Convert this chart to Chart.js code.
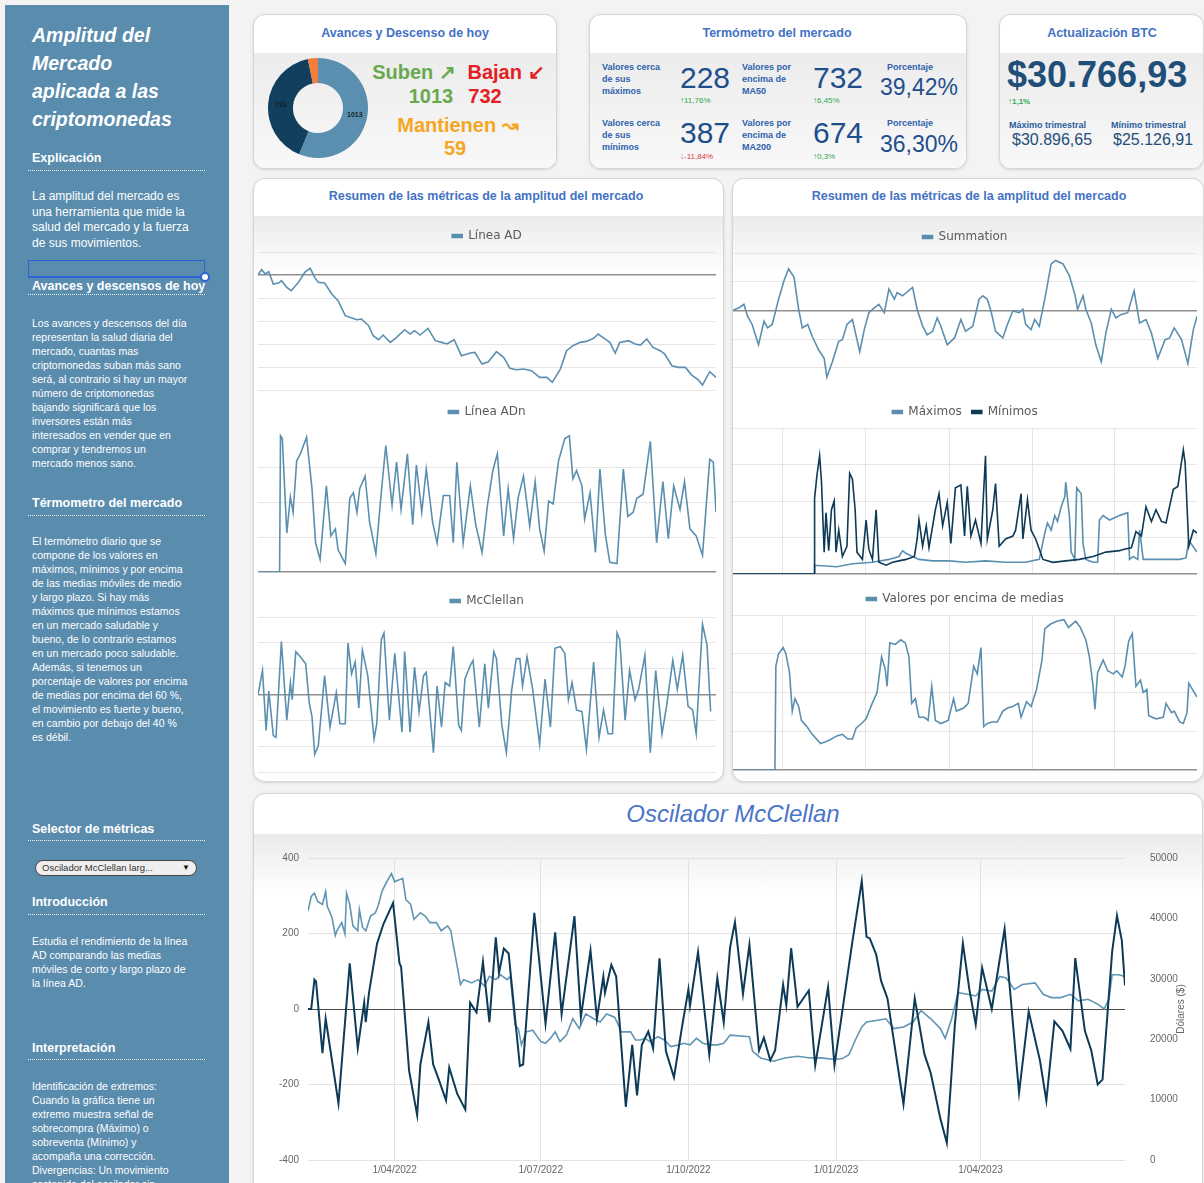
<!DOCTYPE html>
<html lang="es">
<head>
<meta charset="utf-8">
<title>Amplitud del Mercado</title>
<script src="https://cdn.jsdelivr.net/npm/chart.js@4.4.0/dist/chart.umd.min.js"></script>
<style>
  html, body { margin: 0; padding: 0; }
  body { width: 1204px; height: 1183px; overflow: hidden; position: relative; background: #f3f3f3;
         font-family: "Liberation Sans", Arial, sans-serif; }
  .side { position: absolute; left: 5px; top: 5px; width: 224px; height: 1200px; background: #5a8cae; }
  .st { position: absolute; left: 32px; color: #fff; font: italic bold 19.5px/28px "Liberation Sans", Arial, sans-serif; }
  .sh { position: absolute; left: 28px; width: 177px; box-sizing: border-box; padding-left: 4px; color: #fff;
        font: bold 12.5px/16px "Liberation Sans", Arial, sans-serif; border-bottom: 1px dotted rgba(255,255,255,.9); white-space: nowrap; }
  .sp { position: absolute; left: 32px; margin: 0; color: #fff; font: 10.5px/14px "Liberation Sans", Arial, sans-serif; white-space: nowrap; }
  .sel { position: absolute; left: 28px; top: 260px; width: 177px; height: 18px; box-sizing: border-box;
         border: 1.5px solid #2c62d8; border-bottom-width: 2.5px; }
  .knob { position: absolute; left: 200px; top: 272px; width: 10px; height: 10px; box-sizing: border-box;
          border: 2px solid #2c62d8; border-radius: 50%; background: #fff; }
  .pick { position: absolute; left: 35px; top: 860px; width: 162px; height: 16px; box-sizing: border-box;
          background: #eeeeee; border: 1px solid #444; border-radius: 9px; color: #333;
          font: 9.5px/14px "Liberation Sans", Arial, sans-serif; padding-left: 6px; }
  .pick span { position: absolute; right: 6px; top: 0; font-size: 8px; color: #111; }

  .card { position: absolute; background: #fff; border: 1px solid #d6d6d6; border-radius: 12px;
          box-shadow: 0 1px 3px rgba(0,0,0,.13); overflow: hidden; }
  .band { position: absolute; left: 0; right: 0; background: linear-gradient(to bottom, #ebebeb, rgba(240,240,240,0)); }
  .band.full { background: linear-gradient(to bottom, #ececec, #f8f8f8); }

  .t { position: absolute; white-space: nowrap; line-height: 1; }
  .c { transform: translate(-50%, -50%); }
  .l { transform: translateY(-50%); }
  .ttl { font: bold 12.5px "Liberation Sans", Arial, sans-serif; color: #4472c4; }
  .big { font: bold 20px "Liberation Sans", Arial, sans-serif; }
  .lab { font: bold 9px/12px "Liberation Sans", Arial, sans-serif; color: #2f62ad; }
  .num { font: 30px "Liberation Sans", Arial, sans-serif; color: #1f4e8c; }
  .pct { font: 23px "Liberation Sans", Arial, sans-serif; color: #1f4e8c; }
  .chg { font: 8px "Liberation Sans", Arial, sans-serif; }
  .up { color: #2ea84f; }
  .down { color: #e0393e; }
  canvas { position: absolute; }
</style>
</head>
<body>

<!-- sidebar -->
<div class="side"></div>
<div class="st" style="top:21px">Amplitud del<br>Mercado<br>aplicada a las<br>criptomonedas</div>
<div class="sh" style="top:150px;padding-bottom:4px">Explicación</div>
<p class="sp" style="top:189px;font-size:12px;line-height:15.6px">La amplitud del mercado es<br>una herramienta que mide la<br>salud del mercado y la fuerza<br>de sus movimientos.</p>
<div class="sel"></div><div class="knob"></div>
<div class="sh" style="top:278px;padding-bottom:0">Avances y descensos de hoy</div>
<p class="sp" style="top:316px">Los avances y descensos del día<br>representan la salud diaria del<br>mercado, cuantas mas<br>criptomonedas suban más sano<br>será, al contrario si hay un mayor<br>número de criptomonedas<br>bajando significará que los<br>inversores están más<br>interesados en vender que en<br>comprar y tendremos un<br>mercado menos sano.</p>
<div class="sh" style="top:495px;padding-bottom:4px">Térmometro del mercado</div>
<p class="sp" style="top:534px">El termómetro diario que se<br>compone de los valores en<br>máximos, mínimos y por encima<br>de las medias móviles de medio<br>y largo plazo. Si hay más<br>máximos que mínimos estamos<br>en un mercado saludable y<br>bueno, de lo contrario estamos<br>en un mercado poco saludable.<br>Además, si tenemos un<br>porcentaje de valores por encima<br>de medias por encima del 60 %,<br>el movimiento es fuerte y bueno,<br>en cambio por debajo del 40 %<br>es débil.</p>
<div class="sh" style="top:821px;padding-bottom:3px">Selector de métricas</div>
<div class="pick">Oscilador McClellan larg...<span>▼</span></div>
<div class="sh" style="top:894px;padding-bottom:4px">Introducción</div>
<p class="sp" style="top:934px">Estudia el rendimiento de la línea<br>AD comparando las medias<br>móviles de corto y largo plazo de<br>la línea AD.</p>
<div class="sh" style="top:1040px;padding-bottom:3px">Interpretación</div>
<p class="sp" style="top:1079px">Identificación de extremos:<br>Cuando la gráfica tiene un<br>extremo muestra señal de<br>sobrecompra (Máximo) o<br>sobreventa (Mínimo) y<br>acompaña una corrección.<br>Divergencias: Un movimiento<br>sostenido del oscilador sin</p>

<!-- cards -->
<div class="card" style="left:253px;top:14px;width:302px;height:153px"><div class="band full" style="top:38px;bottom:0"></div></div>
<div class="card" style="left:589px;top:14px;width:376px;height:153px"><div class="band full" style="top:38px;bottom:0"></div></div>
<div class="card" style="left:999px;top:14px;width:203px;height:153px"><div class="band full" style="top:38px;bottom:0"></div></div>
<div class="card" style="left:253px;top:178px;width:469px;height:602px"><div class="band" style="top:37px;height:60px"></div></div>
<div class="card" style="left:732px;top:178px;width:470px;height:602px"><div class="band" style="top:37px;height:60px"></div></div>
<div class="card" style="left:253px;top:793px;width:948px;height:420px"><div class="band" style="top:40px;height:60px"></div></div>

<!-- card titles -->
<div class="t c ttl" style="left:405px;top:33px">Avances y Descenso de hoy</div>
<div class="t c ttl" style="left:777px;top:33px">Termómetro del mercado</div>
<div class="t c ttl" style="left:1102px;top:33px">Actualización BTC</div>
<div class="t c ttl" style="left:486px;top:196px">Resumen de las métricas de la amplitud del mercado</div>
<div class="t c ttl" style="left:969px;top:196px">Resumen de las métricas de la amplitud del mercado</div>
<div class="t c" style="left:733px;top:814px;font:italic 24px 'Liberation Sans',Arial,sans-serif;color:#4a74c9">Oscilador McClellan</div>

<!-- advances / declines -->
<div class="t c big" style="left:414px;top:72px;color:#6aa84f">Suben ↗</div>
<div class="t c big" style="left:506px;top:72px;color:#e31e24">Bajan ↙</div>
<div class="t c big" style="left:431px;top:96px;color:#6aa84f">1013</div>
<div class="t c big" style="left:485px;top:96px;color:#e31e24">732</div>
<div class="t c big" style="left:458px;top:125px;color:#f5a623">Mantienen ↝</div>
<div class="t c big" style="left:455px;top:148px;color:#f5a623">59</div>

<!-- market thermometer -->
<div class="t lab" style="left:602px;top:61px">Valores cerca<br>de sus<br>máximos</div>
<div class="t l num" style="left:680px;top:78px">228</div>
<div class="t l chg up" style="left:680px;top:100px">↑11,76%</div>
<div class="t lab" style="left:742px;top:61px">Valores por<br>encima de<br>MA50</div>
<div class="t l num" style="left:813px;top:78px">732</div>
<div class="t l chg up" style="left:813px;top:100px">↑6,45%</div>
<div class="t l lab" style="left:887px;top:67px">Porcentaje</div>
<div class="t l pct" style="left:880px;top:87px">39,42%</div>
<div class="t lab" style="left:602px;top:117px">Valores cerca<br>de sus<br>mínimos</div>
<div class="t l num" style="left:680px;top:133px">387</div>
<div class="t l chg down" style="left:680px;top:156px">↓-11,84%</div>
<div class="t lab" style="left:742px;top:117px">Valores por<br>encima de<br>MA200</div>
<div class="t l num" style="left:813px;top:133px">674</div>
<div class="t l chg up" style="left:813px;top:156px">↑0,3%</div>
<div class="t l lab" style="left:887px;top:123px">Porcentaje</div>
<div class="t l pct" style="left:880px;top:144px">36,30%</div>

<!-- BTC -->
<div class="t l" style="left:1007px;top:75px;font:bold 36px 'Liberation Sans',Arial,sans-serif;color:#1f4e79">$30.766,93</div>
<div class="t l chg up" style="left:1008px;top:101px;font-weight:bold">↑1,1%</div>
<div class="t l lab" style="left:1009px;top:125px;color:#2b5c9e">Máximo trimestral</div>
<div class="t l" style="left:1012px;top:140px;font:16px 'Liberation Sans',Arial,sans-serif;color:#1f4e79">$30.896,65</div>
<div class="t l lab" style="left:1111px;top:125px;color:#2b5c9e">Mínimo trimestral</div>
<div class="t l" style="left:1113px;top:140px;font:16px 'Liberation Sans',Arial,sans-serif;color:#1f4e79">$25.126,91</div>

<!-- charts -->
<canvas id="cDonut" width="100" height="100" style="left:268px;top:58px"></canvas>
<canvas id="cAD" width="458" height="171" style="left:258px;top:220px"></canvas>
<canvas id="cADn" width="458" height="177" style="left:258px;top:396px"></canvas>
<canvas id="cMcS" width="458" height="188" style="left:258px;top:585px"></canvas>
<canvas id="cSum" width="464" height="165" style="left:733px;top:221px"></canvas>
<canvas id="cMax" width="464" height="179" style="left:733px;top:396px"></canvas>
<canvas id="cVal" width="464" height="188" style="left:733px;top:583px"></canvas>
<canvas id="cOsc" width="945" height="348" style="left:256px;top:835px"></canvas>

<script>
// x values are days counted from 1 Jan 2022
const dayMin = 36, dayMax = 545;
const quarterDays = [90, 181, 273, 365, 455];
const quarterLabels = ['1/04/2022', '1/07/2022', '1/10/2022', '1/01/2023', '1/04/2023'];

// today's advances / declines / unchanged
const breadthLabels = ['Suben', 'Bajan', 'Mantienen'];
const breadthCounts = [1013, 732, 59];

// [day, value]
const adLine = [[36,0],[40,116],[44,22],[48,72],[53,-196],[59,-174],[62,-123],[68,-268],[73,-341],[81,-160],[88,58],[94,145],[99,-51],[103,-160],[110,-174],[118,-413],[125,-558],[133,-885],[138,-921],[146,-972],[151,-957],[159,-1102],[164,-1320],[170,-1407],[175,-1305],[183,-1465],[190,-1356],[199,-1189],[205,-1283],[210,-1211],[216,-1305],[225,-1160],[233,-1428],[240,-1465],[246,-1500],[254,-1407],[262,-1754],[272,-1697],[277,-1682],[285,-1936],[292,-1885],[301,-1667],[309,-1790],[316,-2030],[323,-2059],[331,-2045],[340,-2081],[349,-2226],[357,-2226],[363,-2334],[372,-2045],[379,-1646],[386,-1537],[394,-1465],[401,-1443],[409,-1377],[414,-1283],[422,-1392],[427,-1465],[433,-1697],[438,-1465],[448,-1428],[455,-1500],[461,-1523],[468,-1392],[475,-1573],[483,-1646],[488,-1718],[496,-1972],[503,-2008],[511,-2008],[518,-2175],[525,-2276],[530,-2392],[538,-2102],[545,-2226]];

const adnLine = [[36,0],[60,0],[61,98],[63,96],[68,28],[72,54],[75,43],[79,80],[83,85],[90,97],[96,60],[100,21],[105,9],[112,62],[117,26],[122,31],[125,16],[133,6],[138,53],[142,57],[146,43],[149,60],[155,69],[160,36],[167,13],[173,57],[178,91],[185,48],[190,79],[195,45],[202,85],[208,34],[212,77],[218,43],[223,74],[230,36],[235,21],[242,55],[249,55],[253,21],[257,79],[264,21],[272,62],[278,34],[285,14],[291,48],[297,73],[302,85],[309,26],[314,60],[320,24],[325,53],[331,69],[338,33],[344,65],[349,31],[354,15],[359,51],[364,49],[370,80],[377,96],[382,98],[386,67],[390,73],[396,62],[399,38],[405,57],[411,14],[416,74],[422,27],[427,7],[435,6],[442,74],[447,40],[453,43],[457,53],[464,56],[472,94],[479,21],[486,65],[492,24],[498,62],[505,45],[510,65],[516,31],[523,26],[530,12],[538,81],[542,79],[545,43]];

const mcSmall = [[36,0],[41,93],[45,-139],[48,13],[53,-159],[56,-166],[62,205],[68,-99],[72,46],[74,-20],[78,166],[83,146],[89,119],[93,-33],[96,-86],[99,-232],[103,-199],[110,73],[116,-126],[123,7],[127,-113],[133,-113],[136,199],[140,80],[144,126],[148,-53],[152,172],[158,73],[165,-172],[168,-113],[173,212],[176,238],[182,-99],[188,159],[196,-146],[199,166],[205,-146],[210,106],[215,-66],[220,73],[223,86],[231,-225],[235,33],[240,-126],[244,46],[249,33],[253,186],[259,-119],[262,-139],[266,60],[272,113],[275,132],[282,-126],[288,119],[292,-53],[298,166],[301,139],[307,-119],[312,-225],[318,20],[323,139],[327,139],[330,33],[335,146],[341,26],[349,-192],[355,60],[361,-126],[366,179],[372,186],[377,159],[381,-20],[385,46],[390,-60],[396,-66],[401,-212],[409,126],[415,-166],[420,-60],[425,-152],[430,-152],[435,238],[438,212],[444,-99],[449,93],[455,-20],[459,20],[466,152],[472,-225],[478,93],[485,-152],[490,-46],[497,132],[502,20],[508,152],[514,-46],[519,-60],[523,-152],[530,272],[535,192],[539,-66]];

const summation = [[36,0],[43,0.1],[48,0.21],[52,-0.2],[57,-0.49],[64,-1.2],[70,-0.38],[74,-0.61],[79,-0.49],[86,0.39],[92,1.04],[97,1.45],[103,1.15],[108,0.04],[112,-0.61],[118,-0.49],[123,-0.91],[130,-1.38],[136,-1.67],[139,-2.32],[145,-1.79],[152,-1.08],[156,-1.02],[161,-0.49],[167,-0.32],[175,-1.44],[180,-0.67],[185,-0.08],[191,0.09],[196,0.21],[202,-0.08],[207,0.74],[213,0.39],[216,0.62],[222,0.51],[233,0.8],[238,0.04],[244,-0.55],[249,-0.85],[255,-0.73],[260,-0.26],[264,-0.55],[271,-1.2],[279,-0.96],[286,-0.32],[291,-0.73],[299,-0.55],[306,0.39],[310,0.51],[315,0.39],[319,-0.02],[324,-0.73],[332,-0.96],[337,-0.49],[343,-0.02],[350,-0.08],[354,0.04],[357,-0.49],[363,-0.67],[367,-0.32],[372,-0.55],[379,0.56],[385,1.62],[390,1.74],[398,1.62],[405,1.21],[411,0.56],[414,0.04],[420,0.51],[423,0.04],[429,-0.44],[434,-1.2],[440,-1.79],[445,-0.79],[451,0.04],[456,-0.26],[462,-0.14],[469,-0.08],[476,0.68],[482,-0.44],[489,-0.32],[495,-0.79],[502,-1.67],[510,-1.02],[515,-0.96],[520,-0.61],[528,-1.02],[535,-1.85],[541,-0.67],[545,-0.2]];

const maximos = [[36,0],[125,0],[125.5,6],[150,5],[167,7],[189,8],[207,10],[218,12],[222,16],[226,14],[240,10],[255,9],[273,9],[291,8],[313,9],[335,8],[357,8],[372,10],[378,28],[381,35],[385,30],[389,40],[392,36],[396,46],[400,53],[401,63],[405,40],[407,15],[411,10],[413,59],[418,55],[420,21],[423,10],[431,8],[436,8],[438,37],[442,40],[449,37],[460,40],[469,42],[471,10],[475,12],[480,10],[482,30],[486,10],[497,10],[511,10],[526,10],[533,11],[536,23],[545,15]];

const minimos = [[36,0],[125,0],[125.5,52],[128,67],[131,81],[133,64],[136,15],[138,42],[141,16],[144,44],[147,50],[149,15],[152,30],[156,12],[161,19],[164,69],[167,65],[170,44],[172,15],[178,10],[182,37],[185,17],[189,10],[193,44],[196,8],[204,6],[211,8],[218,9],[226,10],[235,12],[238,24],[240,37],[244,19],[248,33],[251,18],[258,44],[262,55],[266,33],[271,49],[275,21],[280,59],[286,61],[290,26],[293,60],[297,26],[302,37],[308,21],[313,81],[315,24],[321,44],[324,62],[328,19],[335,24],[343,26],[346,30],[352,55],[354,24],[359,51],[363,30],[368,24],[376,10],[387,8],[401,9],[416,10],[431,12],[445,15],[460,16],[465,17],[473,18],[478,29],[484,26],[489,46],[495,36],[500,44],[506,36],[511,35],[519,58],[524,60],[530,85],[532,76],[536,19],[541,30],[545,28]];

const aboveMA = [[36,0],[82,0],[83,67],[86,75],[91,79],[94,75],[98,63],[101,38],[104,46],[108,41],[111,32],[117,28],[123,23],[132,17],[141,19],[150,22],[156,23],[162,20],[167,20],[171,27],[177,30],[182,33],[188,42],[194,50],[199,73],[203,65],[205,54],[208,82],[214,81],[220,84],[225,82],[229,73],[232,43],[236,46],[240,34],[246,34],[250,32],[254,54],[258,32],[264,30],[272,32],[278,46],[281,38],[289,40],[294,43],[300,67],[304,62],[308,79],[311,28],[315,30],[320,31],[326,31],[332,38],[337,40],[343,41],[349,43],[352,34],[358,44],[363,41],[369,52],[375,71],[378,91],[384,94],[391,96],[399,97],[404,92],[412,96],[417,92],[423,84],[427,73],[431,54],[433,39],[436,63],[442,71],[447,64],[453,62],[457,64],[463,60],[466,67],[470,83],[474,88],[478,54],[483,58],[486,50],[490,52],[492,35],[500,33],[508,34],[511,43],[517,37],[520,38],[526,31],[530,30],[534,37],[536,56],[540,52],[545,47]];

const mcOsc = [[36,0],[38,0],[40,78],[41,73],[45,-117],[47,-26],[55,-250],[62,121],[67,-104],[71,17],[72,-35],[74,43],[79,173],[83,225],[89,281],[93,121],[94,112],[99,-164],[104,-281],[106,-147],[111,-35],[114,-147],[117,-181],[122,-242],[124,-155],[129,-225],[134,-266],[137,17],[141,-9],[145,125],[149,-35],[153,190],[155,95],[158,160],[161,147],[168,-151],[170,-147],[177,255],[184,-39],[190,203],[194,-13],[202,246],[206,-22],[212,155],[216,-26],[220,86],[221,43],[225,117],[228,86],[234,-259],[238,-95],[241,-229],[244,-95],[248,-60],[251,-104],[255,134],[259,-112],[264,-181],[269,-48],[273,52],[274,9],[279,151],[286,-121],[291,82],[295,-35],[299,164],[302,230],[307,40],[311,170],[317,-110],[320,-76],[324,-136],[327,-110],[332,64],[334,10],[337,161],[341,6],[348,49],[352,-149],[360,58],[364,-149],[375,174],[381,339],[384,191],[386,187],[390,144],[393,75],[397,28],[407,-252],[414,28],[420,-119],[424,-170],[430,-291],[434,-355],[439,-41],[444,174],[448,53],[452,-41],[456,109],[462,0],[470,212],[479,-222],[485,-7],[492,-136],[496,-243],[501,-33],[506,-58],[511,-106],[514,135],[520,-58],[524,-110],[528,-200],[531,-187],[537,152],[540,247],[543,182],[545,62]];

const btcPrice = [[36,41200],[38,43630],[40,44170],[42,42800],[45,42300],[47,44440],[48,42000],[51,40100],[53,37150],[54,37960],[57,39300],[59,37420],[60,44170],[62,42300],[64,38770],[67,37960],[68,41470],[70,38500],[72,37960],[75,40400],[78,40930],[80,42300],[82,44440],[85,46060],[88,47410],[90,46060],[92,46330],[95,46600],[97,43090],[100,42300],[102,39850],[106,40930],[109,40400],[112,39300],[116,39300],[119,37960],[123,38770],[125,37960],[126,36340],[129,32020],[131,29050],[133,29860],[138,29320],[142,29860],[146,28780],[149,30400],[153,29860],[156,30670],[160,29860],[162,30400],[165,22300],[167,21760],[169,19060],[172,21220],[176,21490],[181,19600],[184,19330],[187,20140],[190,21220],[193,19600],[197,20680],[201,23380],[205,21760],[209,24190],[214,23380],[218,22840],[222,24190],[227,23650],[229,22570],[231,21220],[234,21220],[237,21220],[240,19870],[243,19870],[246,20140],[249,19600],[254,20410],[258,19870],[262,18790],[267,19060],[270,19330],[274,19060],[278,20140],[282,19330],[287,19060],[291,19060],[295,19330],[299,20680],[311,20400],[313,17980],[318,16900],[326,16360],[333,16900],[341,17170],[349,16900],[356,16900],[364,16630],[369,16790],[373,17440],[377,19870],[381,22030],[384,22840],[390,23110],[396,23380],[401,21760],[407,22030],[413,22840],[418,24730],[424,23380],[430,21760],[433,20140],[437,23380],[441,27700],[447,27430],[452,27160],[456,28240],[462,27970],[467,30400],[471,30130],[476,28240],[481,29050],[489,29320],[494,27430],[499,26890],[505,26890],[511,27430],[516,26350],[522,26620],[528,25810],[532,25000],[535,26620],[537,30670],[541,30670],[545,30400]];

const lightBlue = '#5b8fb0';
const darkBlue = '#0d3a56';

Chart.defaults.font.family = '"Liberation Sans", Arial, sans-serif';
Chart.defaults.animation = false;
Chart.defaults.events = [];

const pts = a => a.map(([x, y]) => ({ x, y }));

// doughnut slice values drawn on the ring
const sliceLabels = {
  id: 'sliceLabels',
  afterDatasetsDraw(chart) {
    const { ctx } = chart;
    const meta = chart.getDatasetMeta(0);
    ctx.save();
    ctx.font = 'bold 7px "Liberation Sans", Arial, sans-serif';
    ctx.fillStyle = '#1b1b1b';
    ctx.textAlign = 'center';
    ctx.textBaseline = 'middle';
    meta.data.forEach((arc, i) => {
      const v = chart.data.datasets[0].data[i];
      if (v < 100) return;
      const p = arc.tooltipPosition();
      ctx.fillText(String(v), p.x, p.y);
    });
    ctx.restore();
  }
};

new Chart(document.getElementById('cDonut'), {
  type: 'doughnut',
  data: {
    labels: breadthLabels,
    datasets: [{ data: breadthCounts, backgroundColor: [lightBlue, '#123f5e', '#f47c3c'], borderWidth: 0 }]
  },
  options: {
    responsive: false,
    cutout: '50%',
    plugins: { legend: { display: false }, tooltip: { enabled: false } }
  },
  plugins: [sliceLabels]
});

const legendStyle = {
  position: 'top',
  labels: {
    boxWidth: 10, boxHeight: 3, padding: 10, color: '#5a5a5a',
    font: { family: '"DejaVu Sans", sans-serif', size: 12 },
    sort: (a, b) => a.datasetIndex - b.datasetIndex
  }
};

function line(label, data, color, order) {
  return { label, data: pts(data), borderColor: color, backgroundColor: color,
           borderWidth: 1.6, pointRadius: 0, tension: 0, order: order || 0 };
}

function quarterTicks(scale) {
  scale.ticks = quarterDays.map(v => ({ value: v }));
}

function panel(id, datasets, yr, quarterGrid) {
  const x = quarterGrid
    ? { type: 'linear', min: dayMin, max: dayMax, afterBuildTicks: quarterTicks,
        ticks: { display: false }, border: { display: false },
        grid: { color: '#e4e4e4', drawTicks: false } }
    : { type: 'linear', min: dayMin, max: dayMax, display: false };
  return new Chart(document.getElementById(id), {
    type: 'line',
    data: { datasets },
    options: {
      responsive: false,
      layout: { padding: { bottom: 1 } },
      plugins: { legend: legendStyle, tooltip: { enabled: false } },
      scales: {
        x,
        y: {
          min: yr.min, max: yr.max,
          ticks: { display: false, stepSize: yr.step },
          border: { display: false },
          grid: {
            drawTicks: false,
            color: c => {
              const v = c.tick.value;
              if (v === 0) return '#8f8f8f';
              return Math.abs(v / yr.step - Math.round(v / yr.step)) < 1e-6 ? '#e6e6e6' : 'rgba(0,0,0,0)';
            },
            lineWidth: c => (c.tick.value === 0 ? 1.6 : 1)
          }
        }
      }
    }
  });
}

panel('cAD', [line('Línea AD', adLine, lightBlue)], { min: -2500, max: 500, step: 500 });
panel('cADn', [line('Línea ADn', adnLine, lightBlue)], { min: 0, max: 103.6, step: 25 });
panel('cMcS', [line('McClellan', mcSmall, lightBlue)], { min: -300, max: 300, step: 100 });
panel('cSum', [line('Summation', summation, lightBlue)], { min: -2.6, max: 2, step: 1 });
panel('cMax', [line('Máximos', maximos, lightBlue, 1), line('Mínimos', minimos, darkBlue, 0)],
      { min: 0, max: 100, step: 25 }, true);
panel('cVal', [line('Valores por encima de medias', aboveMA, lightBlue)], { min: 0, max: 100, step: 25 }, true);

// right axis caption, read bottom to top
const dollarCaption = {
  id: 'dollarCaption',
  afterDraw(chart) {
    const { ctx, chartArea } = chart;
    ctx.save();
    ctx.translate(chartArea.right + 56, (chartArea.top + chartArea.bottom) / 2);
    ctx.rotate(-Math.PI / 2);
    ctx.font = '10px "Liberation Sans", Arial, sans-serif';
    ctx.fillStyle = '#666';
    ctx.textAlign = 'center';
    ctx.textBaseline = 'middle';
    ctx.fillText('Dólares ($)', 0, 0);
    ctx.restore();
  }
};

const tickFont = { size: 10 };
new Chart(document.getElementById('cOsc'), {
  type: 'line',
  data: {
    datasets: [
      { label: 'Oscilador McClellan', data: pts(mcOsc), yAxisID: 'y', borderColor: darkBlue,
        borderWidth: 2, pointRadius: 0, tension: 0 },
      { label: 'Bitcoin', data: pts(btcPrice), yAxisID: 'y1', borderColor: '#6195b4',
        borderWidth: 1.6, pointRadius: 0, tension: 0 }
    ]
  },
  options: {
    responsive: false,
    layout: { padding: { top: 17 } },
    plugins: { legend: { display: false }, tooltip: { enabled: false } },
    scales: {
      x: {
        type: 'linear', min: dayMin, max: dayMax,
        afterBuildTicks: quarterTicks,
        afterFit: s => { s.height = 23; },
        ticks: { color: '#666', font: tickFont, padding: 4, maxRotation: 0, autoSkip: false,
                 callback: v => quarterLabels[quarterDays.indexOf(v)] },
        grid: { color: '#e2e2e2', drawTicks: false },
        border: { display: false }
      },
      y: {
        position: 'left', min: -400, max: 400,
        afterFit: s => { s.width = 52; },
        ticks: { stepSize: 200, color: '#666', font: tickFont, padding: 9, callback: v => String(v) },
        grid: { drawTicks: false, color: c => (c.tick.value === 0 ? '#4a4a4a' : '#e2e2e2') },
        border: { display: false }
      },
      y1: {
        position: 'right', min: 0, max: 50000,
        afterFit: s => { s.width = 76; },
        ticks: { stepSize: 10000, color: '#666', font: tickFont, padding: 17, callback: v => String(v) },
        grid: { display: false },
        border: { display: false }
      }
    }
  },
  plugins: [dollarCaption]
});
</script>
</body>
</html>
